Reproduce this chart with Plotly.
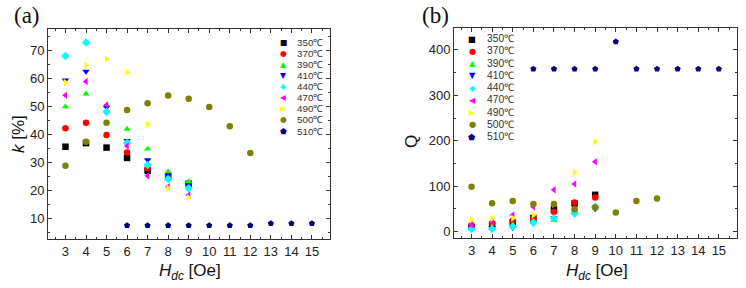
import plotly.graph_objects as go

# ---------------- data ----------------
temps = ["350℃", "370℃", "390℃", "410℃", "440℃", "470℃", "490℃", "500℃", "510℃"]
colors = ["#000000", "#FF0000", "#00FF00", "#0000FF", "#00FFFF", "#FF00FF", "#FFFF00", "#808000", "#000080"]
symbols = ["square", "circle", "triangle-up", "triangle-down", "diamond", "triangle-left", "triangle-right", "circle", "pentagon"]
legend_glyphs = ["■", "●", "▲", "▼", "◆", "◀", "▶", "●", "⬟"]

h_short = [3, 4, 5, 6, 7, 8, 9]
h_500 = [3, 4, 5, 6, 7, 8, 9, 10, 11, 12]
h_510 = [6, 7, 8, 9, 10, 11, 12, 13, 14, 15]

k_350 = [35.7, 37.0, 35.4, 31.7, 27.1, 25.0, 22.5]
k_370 = [42.3, 44.3, 39.9, 33.6, 28.0, 25.5, 22.5]
k_390 = [50.0, 54.6, 50.5, 42.0, 34.9, 26.8, 23.2]
k_410 = [59.5, 62.6, 49.8, 37.9, 31.0, 25.6, 22.0]
k_440 = [68.1, 72.9, 48.2, 37.0, 29.2, 24.2, 20.9]
k_470 = [54.1, 59.0, 50.6, 36.0, 25.3, 21.4, 18.5]
k_490 = [58.6, 64.8, 67.0, 62.3, 43.6, 20.9, 17.5]
k_500 = [28.9, 37.5, 44.3, 48.8, 51.2, 54.0, 52.8, 49.9, 43.0, 33.5]
k_510 = [7.6, 7.6, 7.6, 7.6, 7.6, 7.6, 7.6, 8.3, 8.3, 8.3]

q_350 = [10, 16, 20, 30, 49, 62, 81]
q_370 = [14, 18.5, 24, 28.6, 44, 64, 75]
q_390 = [8, 10, 15, 22, 25, 48, 52]
q_410 = [8, 8, 8, 18, 30, 38, 50]
q_440 = [6, 6, 11, 20, 29.5, 40.5, 55]
q_470 = [15, 22, 36.8, 55, 92, 105, 154]
q_490 = [26, 29.5, 29.5, 36.8, 60, 130, 198]
q_500 = [99, 62.5, 67.6, 61, 61, 49, 53.7, 42, 67.6, 72.7]
q_510 = [358, 358, 358, 358, 418, 358, 358, 358, 358, 358]

x_ticks = list(range(3, 16))
k_ticks = [10, 20, 30, 40, 50, 60, 70]
q_ticks = [0, 100, 200, 300, 400]

k_series = [k_350, k_370, k_390, k_410, k_440, k_470, k_490, k_500, k_510]
q_series = [q_350, q_370, q_390, q_410, q_440, q_470, q_490, q_500, q_510]
x_series = [h_short] * 7 + [h_500, h_510]

W, H = 746, 288

fig = go.Figure()
for i in range(len(temps)):
    for ys, xa, ya in ((k_series[i], "x", "y"), (q_series[i], "x2", "y2")):
        fig.add_trace(go.Scatter(
            x=x_series[i], y=ys, mode="markers", name=temps[i],
            xaxis=xa, yaxis=ya, showlegend=False,
            marker=dict(symbol=symbols[i], color=colors[i], size=6.5, line=dict(width=0)),
        ))

tickfont = dict(family="Liberation Sans, Arial, sans-serif", size=13, color="#222")

def xaxis(domain, anchor):
    return dict(domain=domain, anchor=anchor, range=[2.15, 15.88], tickmode="array",
                tickvals=x_ticks, ticks="inside", ticklen=4, tickwidth=1, tickcolor="#333",
                showline=True, linecolor="#333", linewidth=1, mirror="allticks",
                showgrid=False, zeroline=False, tickfont=tickfont, automargin=False,
                minor=dict(dtick=0.5, tick0=0, ticks="inside", ticklen=2, tickcolor="#333", showgrid=False))

def yaxis(domain, anchor, rng, tv, minor_dt):
    return dict(domain=domain, anchor=anchor, range=rng, tickmode="array", tickvals=tv,
                ticks="inside", ticklen=4, tickwidth=1, tickcolor="#333",
                showline=True, linecolor="#333", linewidth=1, mirror="allticks",
                showgrid=False, zeroline=False, tickfont=tickfont, automargin=False,
                minor=dict(dtick=minor_dt, tick0=0, ticks="inside", ticklen=2, tickcolor="#333", showgrid=False))

fig.update_layout(
    width=W, height=H, margin=dict(l=0, r=0, t=0, b=0),
    paper_bgcolor="white", plot_bgcolor="white",
    xaxis=xaxis([48 / W, 330 / W], "y"),
    yaxis=yaxis([1 - 239 / H, 1 - 29 / H], "x", [2.75, 77.75], k_ticks, 5),
    xaxis2=xaxis([454 / W, 737 / W], "y2"),
    yaxis2=yaxis([1 - 238 / H, 1 - 28 / H], "x2", [-14, 448], q_ticks, 50),
)

lblfont = dict(family="Liberation Sans, Arial, sans-serif", size=17, color="#111")
serif = dict(family="Liberation Serif, Times New Roman, serif", size=23, color="#111")
ann = []
def pann(x, y, text, font, xanchor="center", **kw):
    d = dict(x=x / W, y=1 - y / H, xref="paper", yref="paper", text=text, showarrow=False,
             font=font, xanchor=xanchor, yanchor="middle")
    d.update(kw)
    ann.append(d)

pann(27, 15, "(a)", serif)
pann(436, 15, "(b)", serif)
pann(18, 134, "<i>k</i> [%]", lblfont, textangle=-90)
pann(411, 142, "Q", lblfont, textangle=-90)
pann(190, 272, "<i>H<sub>dc</sub></i> [Oe]", lblfont)
pann(597, 272, "<i>H<sub>dc</sub></i> [Oe]", lblfont)

# legends (text symbols + labels)
def legend(xs, xt, ytop, ybot, fs):
    n = len(temps)
    step = (ybot - ytop) / (n - 1)
    for i in range(n):
        y = ytop + i * step
        pann(xs, y, legend_glyphs[i],
             dict(family="DejaVu Sans, sans-serif", size=fs - 2, color=colors[i]))
        pann(xt, y, temps[i], dict(family="Liberation Sans, Arial, sans-serif", size=fs, color="#333"),
             xanchor="left")

legend(283, 295, 42, 131, 9.8)
legend(472, 485, 38.7, 136.7, 10.3)

fig.update_layout(annotations=ann)
fig.write_html("out.html", config={"displayModeBar": False},
               post_script="document.body.style.margin='0';")
